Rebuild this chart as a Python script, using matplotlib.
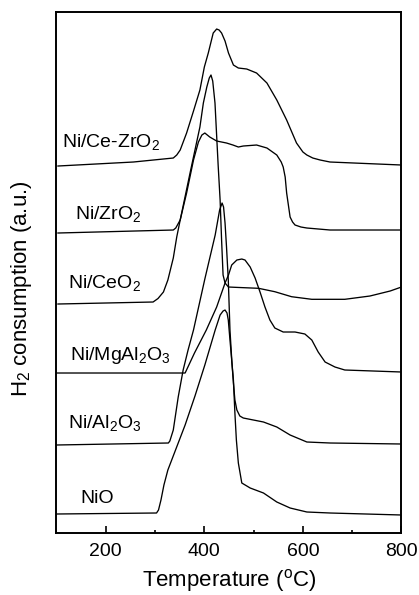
import matplotlib
matplotlib.use("Agg")
import matplotlib.pyplot as plt
import matplotlib.ticker as ticker

plt.rcParams['font.family'] = ['Liberation Sans', 'DejaVu Sans']
plt.rcParams['mathtext.default'] = 'regular'

# --------------------------------------------------
# TPR profiles (temperature in C, signal in a.u.)
# --------------------------------------------------
cezr_t = [103, 256, 337, 344, 351, 364, 378, 391, 400, 408, 418, 425, 430, 435, 442,
          449, 459, 469, 486, 506, 527, 547, 567, 587, 600, 608, 620, 635, 655, 800]
cezr_y = [367, 371, 375, 378, 383, 400, 422, 443, 466, 480, 500, 504, 503, 500, 492,
          480, 468, 465, 464, 460, 450, 433, 413, 390, 381, 378, 375, 373, 371, 368]

zr_t = [103, 337, 342, 351, 364, 378, 388, 395, 401, 411, 425, 445, 458, 469, 479,
        506, 527, 547, 556, 560, 564, 567, 574, 579, 584, 596, 608, 655, 800]
zr_y = [300, 303, 305, 313, 340, 373, 391, 398, 400, 396, 392, 390, 388, 386, 387,
        388, 385, 378, 371, 366, 356, 340, 316, 311, 308, 306, 305, 303, 303]

ce_t = [103, 296, 306, 317, 326, 337, 344, 351, 371, 391, 398, 405, 410, 413.5, 417,
        421.6, 428, 432, 435, 438, 442, 449, 462, 510, 543, 577, 618, 685, 736, 777, 800]
ce_y = [229, 231, 234.5, 241, 253, 275, 296, 313, 360, 406, 430, 446, 455, 458, 452,
        430, 368, 333, 293, 258, 250, 246, 245.7, 244.7, 241.3, 236.3, 233.7, 233.7, 237, 242, 246]

mgal_t = [100, 361, 380, 404, 425, 442, 449, 455.5, 466, 476, 482.5, 493, 503, 513, 523,
          533, 543, 560, 584, 604, 618, 631, 645, 665, 685, 800]
mgal_y = [160, 160, 180, 203, 226, 250, 258, 268, 273, 274, 273, 266, 255, 241, 226,
          213, 205, 201, 201, 199, 193, 181, 171, 166, 163, 161]

al_t = [100, 327, 330, 337, 347, 357, 367, 378, 401, 422, 431, 436, 439, 442, 445, 448.6,
        452, 456, 459, 462, 466, 472, 479, 520, 547, 574, 608, 655, 800]
al_y = [88, 90, 92, 103, 136, 163, 183, 203, 254, 298, 323, 330, 326, 310, 286, 253,
        203, 170, 150, 133, 123, 117, 115, 111, 106, 98, 91, 90, 89]

nio_t = [100, 303, 307, 312, 318, 326, 340, 361, 381, 401, 422, 432, 438, 442, 446, 448.6,
         452, 459, 462, 465, 469, 476, 493, 520, 547, 574, 608, 655, 800]
nio_y = [19, 20, 23, 33, 48, 63, 81, 108, 137, 168, 203, 218, 222, 223, 220, 213,
         193, 153, 120, 93, 70, 50, 45, 40, 31, 25, 21, 20, 18]

series = [
    (cezr_t, cezr_y, 'Ni/Ce-ZrO$_2$', 111, 386),
    (zr_t, zr_y, 'Ni/ZrO$_2$', 137, 314),
    (ce_t, ce_y, 'Ni/CeO$_2$', 123, 245),
    (mgal_t, mgal_y, 'Ni/MgAl$_2$O$_3$', 127, 173),
    (al_t, al_y, 'Ni/Al$_2$O$_3$', 123, 105),
    (nio_t, nio_y, 'NiO', 148, 30),
]

# --------------------------------------------------
# Figure
# --------------------------------------------------
fig = plt.figure(figsize=(4.19, 5.95), dpi=100, facecolor='white')
ax = fig.add_axes([0.1348, 0.1042, 0.8234, 0.8756])

for t, y, label, lx, ly in series:
    ax.plot(t, y, color='black', linewidth=0.95, solid_joinstyle='round')
    ax.text(lx, ly, label, fontsize=14, ha='left', va='baseline')

ax.set_xlim(100, 800)
ax.set_ylim(0, 521)

ax.xaxis.set_major_locator(ticker.MultipleLocator(200))
ax.xaxis.set_minor_locator(ticker.MultipleLocator(100))
ax.tick_params(axis='x', which='major', direction='in', length=5, width=1.2,
               labelsize=14, pad=7, top=False)
ax.tick_params(axis='x', which='minor', direction='in', length=2.5, width=1.2, top=False)
ax.set_yticks([])

for spine in ax.spines.values():
    spine.set_linewidth(1.4)

ax.set_xlabel('Temperature ($^{o}$C)', fontsize=16, labelpad=5)
ax.set_ylabel('H$_2$ consumption (a.u.)', fontsize=16)
ax.yaxis.set_label_coords(-0.065, 0.468)

fig.savefig('out.png', dpi=100)
